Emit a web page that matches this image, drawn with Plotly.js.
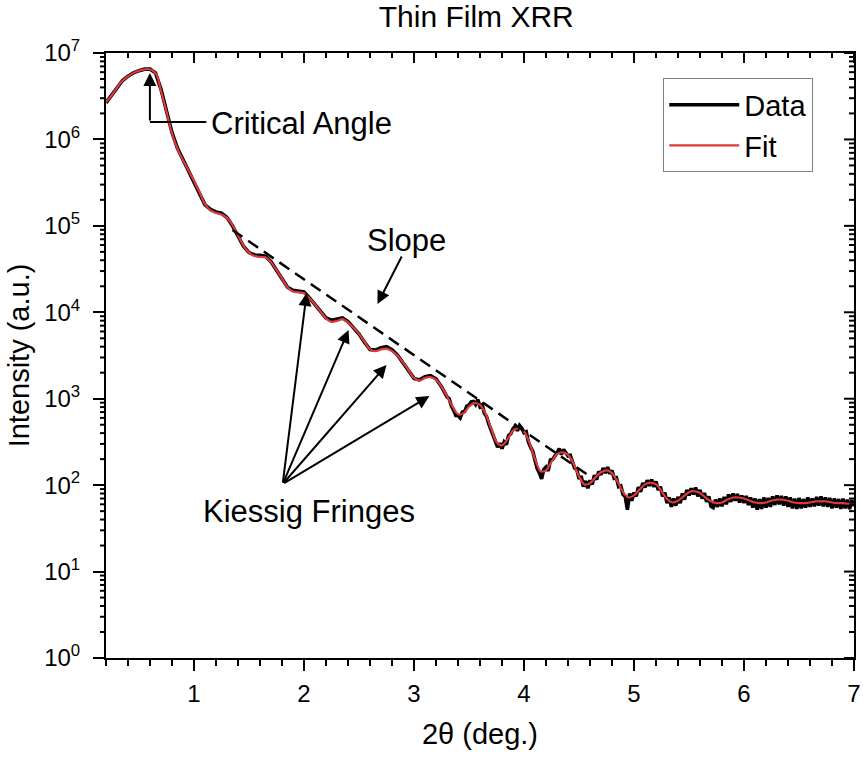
<!DOCTYPE html>
<html>
<head>
<meta charset="utf-8">
<script src="https://cdn.plot.ly/plotly-3.0.1.min.js"></script>
<style>html,body{margin:0;padding:0;background:#fff;}#chart{width:863px;height:759px;}</style>
</head>
<body>
<div id="chart"></div>
<script>
// ---- Data ----
const dataX = [0.20,0.25,0.30,0.35,0.40,0.45,0.50,0.55,0.60,0.65,0.70,0.75,0.80,0.85,0.90,0.95,1.00,1.05,1.10,1.15,1.20,1.25,1.30,1.35,1.40,1.45,1.50,1.55,1.60,1.65,1.70,1.75,1.80,1.85,1.90,1.95,2.00,2.05,2.10,2.15,2.20,2.25,2.30,2.35,2.40,2.45,2.50,2.55,2.60,2.65,2.70,2.75,2.80,2.85,2.90,2.95,3.00,3.05,3.10,3.15,3.20,3.25,
3.30,3.32,3.34,3.36,3.38,3.40,3.42,3.44,3.46,3.48,3.50,3.52,3.54,3.56,3.58,3.60,3.62,3.64,3.66,3.68,3.70,3.72,3.74,3.76,3.78,3.80,3.82,3.84,3.86,3.88,3.90,3.92,3.94,3.96,3.98,
4.00,4.02,4.04,4.06,4.08,4.10,4.12,4.14,4.16,4.18,4.20,4.22,4.24,4.26,4.28,4.30,4.32,4.34,4.36,4.38,4.40,4.42,4.44,4.46,4.48,4.50,4.52,4.54,4.56,4.58,4.60,4.62,4.64,4.66,4.68,4.70,4.72,4.74,4.76,4.78,4.80,4.82,4.84,4.86,4.88,4.90,4.92,4.94,4.96,4.98,
5.00,5.02,5.04,5.06,5.08,5.10,5.12,5.14,5.16,5.18,5.20,5.22,5.24,5.26,5.28,5.30,5.32,5.34,5.36,5.38,5.40,5.42,5.44,5.46,5.48,5.50,5.52,5.54,5.56,5.58,5.60,5.62,5.64,5.66,5.68,5.70,5.72,5.74,5.76,5.78,5.80,5.82,5.84,5.86,5.88,5.90,5.92,5.94,5.96,5.98,
6.00,6.02,6.04,6.06,6.08,6.10,6.12,6.14,6.16,6.18,6.20,6.22,6.24,6.26,6.28,6.30,6.32,6.34,6.36,6.38,6.40,6.42,6.44,6.46,6.48,6.50,6.52,6.54,6.56,6.58,6.60,6.62,6.64,6.66,6.68,6.70,6.72,6.74,6.76,6.78,6.80,6.82,6.84,6.86,6.88,6.90,6.92,6.94,6.96,6.98,7.00];
const dataY = [2.65e6,3.2e6,4.0e6,4.8e6,5.4e6,5.9e6,6.25e6,6.5e6,6.5e6,5.9e6,3.8e6,2.15e6,1.2e6,7.9e5,5.8e5,4.4e5,3.3e5,2.4e5,1.75e5,1.55e5,1.45e5,1.40e5,1.25e5,1.0e5,7.6e4,5.8e4,4.9e4,4.6e4,4.55e4,4.45e4,3.85e4,3.05e4,2.4e4,1.95e4,1.8e4,1.78e4,1.72e4,1.47e4,1.22e4,1.0e4,8.6e3,8.1e3,8.3e3,8.6e3,7.8e3,6.7e3,5.6e3,4.5e3,3.7e3,3.65e3,3.9e3,4.0e3,3.7e3,3.2e3,2.6e3,2.1e3,1.72e3,1.65e3,1.8e3,1.85e3,1.7e3,1.38e3,
1050,1000,820,740,640,640,600,700,710,820,840,920,930,860,980,810,850,680,620,510,440,380,320,275,305,265,315,295,375,395,450,480,425,490,455,
405,415,315,275,245,195,155,138,118,152,162,146,195,198,214,236,264,226,258,236,218,222,184,158,152,118,127,96,112,92,114,102,130,116,144,132,158,138,162,136,148,120,122,96,98,78,74,52,80,66,
82,74,95,84,106,94,114,98,116,96,110,88,96,74,82,62,72,56,70,58,73,62,80,68,88,76,92,78,94,74,88,70,81,64,74,57,55,68,56,70,57,73,60,78,64,80,66,79,63,76,
62,75,59,72,55,70,52,69,53,72,55,71,56,74,59,76,60,75,58,74,56,72,54,70,53,71,54,69,55,72,56,70,57,73,58,74,57,72,56,71,54,70,55,69,53,70,54,68,53,67,57];

const fitX = [0.20,0.24,0.30,0.35,0.40,0.45,0.50,0.55,0.58,0.62,0.66,0.70,0.75,0.80,0.85,0.90,0.95,1.00,1.05,1.10,1.15,1.20,1.25,1.30,1.35,1.40,1.45,1.50,1.55,1.60,1.65,1.70,1.75,1.80,1.85,1.90,1.95,2.00,2.05,2.10,2.15,2.20,2.25,2.30,2.35,2.40,2.45,2.50,2.55,2.60,2.65,2.70,2.75,2.80,2.85,2.90,2.95,3.00,3.05,3.10,3.15,3.20,3.25,3.30,3.35,3.40,3.45,3.50,3.55,3.60,3.65,3.70,3.75,3.80,3.85,3.90,3.95,4.00,4.05,4.10,4.15,4.20,4.25,4.30,4.35,4.40,4.45,4.50,4.55,4.60,4.65,4.70,4.75,4.80,4.85,4.90,4.95,5.00,5.05,5.10,5.15,5.20,5.25,5.30,5.35,5.40,5.45,5.50,5.55,5.60,5.65,5.70,5.75,5.80,5.85,5.90,5.95,6.00,6.05,6.10,6.15,6.20,6.25,6.30,6.35,6.40,6.45,6.50,6.55,6.60,6.65,6.70,6.75,6.80,6.85,6.90,6.95,7.00];
const fitY = [2.69e6,3.09e6,3.98e6,4.79e6,5.37e6,5.89e6,6.24e6,6.46e6,6.53e6,6.31e6,5.62e6,3.63e6,2.09e6,1.17e6,7.76e5,5.75e5,4.37e5,3.31e5,2.45e5,1.78e5,1.51e5,1.41e5,1.35e5,1.23e5,1.02e5,7.76e4,5.89e4,4.90e4,4.47e4,4.37e4,4.32e4,3.80e4,3.09e4,2.45e4,1.95e4,1.74e4,1.70e4,1.66e4,1.45e4,1.23e4,1.02e4,8.51e3,7.76e3,7.94e3,8.32e3,7.59e3,6.61e3,5.62e3,4.57e3,3.72e3,3.55e3,3.72e3,3.80e3,3.55e3,3.16e3,2.63e3,2.14e3,1.74e3,1.62e3,1.74e3,1.78e3,1.66e3,1.38e3,1.07e3,813,661,676,813,891,851,676,457,316,288,339,427,457,417,309,200,145,148,186,229,240,224,178,126,102,105,123,141,148,138,110,83,72,76,89,102,107,102,85,69,63,66,74,83,85,81,72,65,62,63,68,72,72,70,66,63,62,63,66,68,68,66,63,62,62,63,65,65,65,63,62,62,61,60];

const slopeX = [1.35, 4.62];
const slopeY = [8.95e4, 121];

const yTickVals = [1,10,100,1000,1e4,1e5,1e6,1e7];
const yTickText = ['10<sup>0</sup>','10<sup>1</sup>','10<sup>2</sup>','10<sup>3</sup>','10<sup>4</sup>','10<sup>5</sup>','10<sup>6</sup>','10<sup>7</sup>'];
const xTickVals = [1,2,3,4,5,6,7];
const xMinorStep = 0.2;
const yMinorMantissas = [2,3,4,5,6,7,8,9];

const xRange = [0.2, 7];
const yRangeLog = [0, 7];

// annotation anchor points (x in deg, y as log10 intensity)
const critTip = [0.599, 6.769], critCorner = [0.599, 6.202], critEnd = [1.126, 6.202];
const slopeTail = [2.895, 4.663], slopeTip = [2.668, 4.096];
const kiessigTail = [1.806, 2.013];
const kiessigTips = [[2.024, 4.223],[2.405, 3.795],[2.75, 3.39],[3.14, 3.03]];

const FONT = 'Liberation Sans, Arial, Helvetica, sans-serif';
const W = 863, H = 759, M = {l: 106, r: 9, t: 53, b: 101};
const plotW = W - M.l - M.r, plotH = H - M.t - M.b;

const traces = [
  {x: dataX, y: dataY, name: 'Data', type: 'scatter', mode: 'lines',
   line: {color: '#000000', width: 3.6}},
  {x: fitX, y: fitY, name: 'Fit', type: 'scatter', mode: 'lines',
   line: {color: '#e0393c', width: 2.2, shape: 'spline', smoothing: 0.8}},
  {x: slopeX, y: slopeY, type: 'scatter', mode: 'lines', showlegend: false, hoverinfo: 'skip',
   line: {color: '#000000', width: 2.5, dash: '12px,7px'}}
];

const arrowBase = {xref: 'x', yref: 'y', axref: 'x', ayref: 'y', text: '', showarrow: true,
  arrowcolor: '#000', arrowwidth: 2, arrowhead: 2, arrowsize: 1.3, standoff: 0, startstandoff: 0};

const annFont = {family: FONT, size: 31, color: '#000'};
const annotations = [
  Object.assign({}, arrowBase, {x: critTip[0], y: critTip[1], ax: critCorner[0], ay: critCorner[1]}),
  Object.assign({}, arrowBase, {x: critCorner[0], y: critCorner[1], ax: critEnd[0], ay: critEnd[1], arrowhead: 0}),
  {xref: 'x', yref: 'y', x: 1.14, y: 6.19, text: 'Critical Angle', showarrow: false, xanchor: 'left', yanchor: 'middle', font: annFont},
  Object.assign({}, arrowBase, {x: slopeTip[0], y: slopeTip[1], ax: slopeTail[0], ay: slopeTail[1]}),
  {xref: 'x', yref: 'y', x: 2.931, y: 4.836, text: 'Slope', showarrow: false, xanchor: 'center', yanchor: 'middle', font: annFont},
  {xref: 'x', yref: 'y', x: 2.042, y: 1.69, text: 'Kiessig Fringes', showarrow: false, xanchor: 'center', yanchor: 'middle', font: annFont}
];
kiessigTips.forEach(t => annotations.push(Object.assign({}, arrowBase, {x: t[0], y: t[1], ax: kiessigTail[0], ay: kiessigTail[1]})));

// ---- frame ticks: inside ticks on top/right, minor outside ticks on the left (axis decoration) ----
const xFrac = v => (v - xRange[0]) / (xRange[1] - xRange[0]);
const yFrac = v => (Math.log10(v) - yRangeLog[0]) / (yRangeLog[1] - yRangeLog[0]);
const tick = (x0, y0, x1, y1, w) => ({type: 'line', xref: 'paper', yref: 'paper', x0, y0, x1, y1, layer: 'above',
  line: {color: '#000', width: w}});
const shapes = [];
const xMinor = [];
for (let k = 1; xRange[0] + k * xMinorStep < xRange[1] - 1e-9; k++) {
  const v = +(xRange[0] + k * xMinorStep).toFixed(3);
  if (Math.abs(v - Math.round(v)) > 1e-6) xMinor.push(v);
}
const yMinor = [];
for (let d = yRangeLog[0]; d < yRangeLog[1]; d++) yMinorMantissas.forEach(m => yMinor.push(m * Math.pow(10, d)));
xTickVals.forEach(v => shapes.push(tick(xFrac(v), 1, xFrac(v), 1 - 10 / plotH, 2)));
xMinor.forEach(v => shapes.push(tick(xFrac(v), 1, xFrac(v), 1 - 5 / plotH, 2)));
yTickVals.forEach(v => shapes.push(tick(1, yFrac(v), 1 - 10 / plotW, yFrac(v), 2)));
yMinor.forEach(v => {
  shapes.push(tick(1, yFrac(v), 1 - 5 / plotW, yFrac(v), 2));
  shapes.push(tick(0, yFrac(v), -6 / plotW, yFrac(v), 2));
});

const tickFont = {family: FONT, size: 24, color: '#000'};

const layout = {
  width: W, height: H,
  margin: {l: M.l, r: M.r, t: M.t, b: M.b, pad: 0},
  paper_bgcolor: '#fff', plot_bgcolor: '#fff',
  font: {family: FONT, color: '#000'},
  title: {text: 'Thin Film XRR', font: {family: FONT, size: 30, color: '#000'},
          x: 0.495, xref: 'paper', xanchor: 'center', y: 0.978, yref: 'container', yanchor: 'middle'},
  showlegend: true,
  legend: {x: 0.745, y: 0.958, xanchor: 'left', yanchor: 'top', bgcolor: '#fff',
           bordercolor: '#808080', borderwidth: 1, font: {family: FONT, size: 29, color: '#000'},
           itemwidth: 70, tracegroupgap: 0},
  xaxis: {range: xRange, showgrid: false, zeroline: false, showline: true, mirror: true, linecolor: '#000', linewidth: 2,
          ticks: 'outside', ticklen: 11, tickwidth: 2, tickcolor: '#000', tickmode: 'array', tickvals: xTickVals,
          minor: {ticks: 'outside', ticklen: 6, tickwidth: 2, tickcolor: '#000', dtick: xMinorStep},
          tickfont: tickFont, ticklabelstandoff: 2,
          title: {text: '2θ (deg.)', font: {family: FONT, size: 29, color: '#000'}, standoff: 18}},
  yaxis: {type: 'log', range: yRangeLog, showgrid: false, zeroline: false, showline: true, mirror: true, linecolor: '#000', linewidth: 2,
          ticks: 'outside', ticklen: 11, tickwidth: 2, tickcolor: '#000', tickmode: 'array', tickvals: yTickVals, ticktext: yTickText,
          tickfont: tickFont, ticklabelstandoff: 8,
          title: {text: 'Intensity (a.u.)', font: {family: FONT, size: 29, color: '#000'}, standoff: 6}},
  shapes: shapes,
  annotations: annotations
};

Plotly.newPlot('chart', traces, layout, {displayModeBar: false, staticPlot: true});
</script>
</body>
</html>
